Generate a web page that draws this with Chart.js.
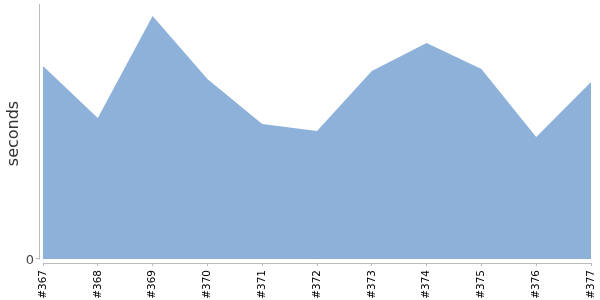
<!DOCTYPE html>
<html>
<head>
<meta charset="utf-8">
<script src="https://cdn.jsdelivr.net/npm/chart.js@4"></script>
<style>
  html, body { margin: 0; padding: 0; background: #fff; }
  #wrap { width: 600px; height: 300px; }
</style>
</head>
<body>
<div id="wrap"><canvas id="buildChart"></canvas></div>
<script>
const builds = ['#367', '#368', '#369', '#370', '#371', '#372', '#373', '#374', '#375', '#376', '#377'];
const durations = [193, 141, 243, 180, 135, 128, 188, 216, 190, 122, 177];
const yTicks = [0];

// osa Y je odsazená o 3 px vlevo od plochy grafu
const axisGap = {
    id: 'axisGap',
    afterDraw(chart) {
        const c = chart.ctx, y = chart.scales.y, area = chart.chartArea;
        const x = area.left - 3.5;
        c.save();
        c.strokeStyle = '#bbb';
        c.lineWidth = 1;
        c.beginPath();
        c.moveTo(x, area.top);
        c.lineTo(x, y.getPixelForValue(0) + 0.5);
        yTicks.forEach(v => {
            const py = Math.round(y.getPixelForValue(v)) - 0.5;
            c.moveTo(x - 4, py);
            c.lineTo(x, py);
        });
        c.stroke();
        c.restore();
    }
};

const ctx = document.getElementById('buildChart').getContext('2d');
new Chart(ctx, {
    type: 'line',
    data: {
        labels: builds,
        datasets: [{
            data: durations,
            fill: 'origin',
            backgroundColor: '#8eb1da',
            borderWidth: 0,
            borderColor: 'rgba(0,0,0,0)',
            pointRadius: 0,
            tension: 0
        }]
    },
    options: {
        responsive: true,
        maintainAspectRatio: false,
        animation: false,
        layout: { padding: { top: 4, right: 9, left: 0, bottom: 0 } },
        scales: {
            x: {
                offset: false,
                grid: { drawOnChartArea: false, color: '#bbb', tickLength: 3 },
                border: { color: '#bbb' },
                ticks: {
                    color: '#000',
                    font: { family: 'DejaVu Sans', size: 10.5 },
                    minRotation: 90,
                    maxRotation: 90,
                    autoSkip: false,
                    padding: 4
                },
                afterFit: s => {
                    s.height = 37;
                    s.paddingLeft = 0;
                    s.paddingRight = 0;
                }
            },
            y: {
                min: -4,
                max: 255,
                grid: { display: false },
                border: { display: false },
                afterBuildTicks: s => { s.ticks = yTicks.map(v => ({ value: v })); },
                ticks: {
                    color: '#444',
                    font: { family: 'DejaVu Sans', size: 13 },
                    padding: 1,
                    labelOffset: 1.5
                },
                title: {
                    display: true,
                    text: 'seconds',
                    color: '#333',
                    font: { family: 'DejaVu Sans', size: 16 },
                    padding: { top: 4, bottom: 0 }
                },
                afterFit: s => {
                    s.width = 43;
                    s.paddingTop = 0;
                    s.paddingBottom = 0;
                }
            }
        },
        plugins: {
            legend: { display: false },
            tooltip: { enabled: false }
        }
    },
    plugins: [axisGap]
});
</script>
</body>
</html>
